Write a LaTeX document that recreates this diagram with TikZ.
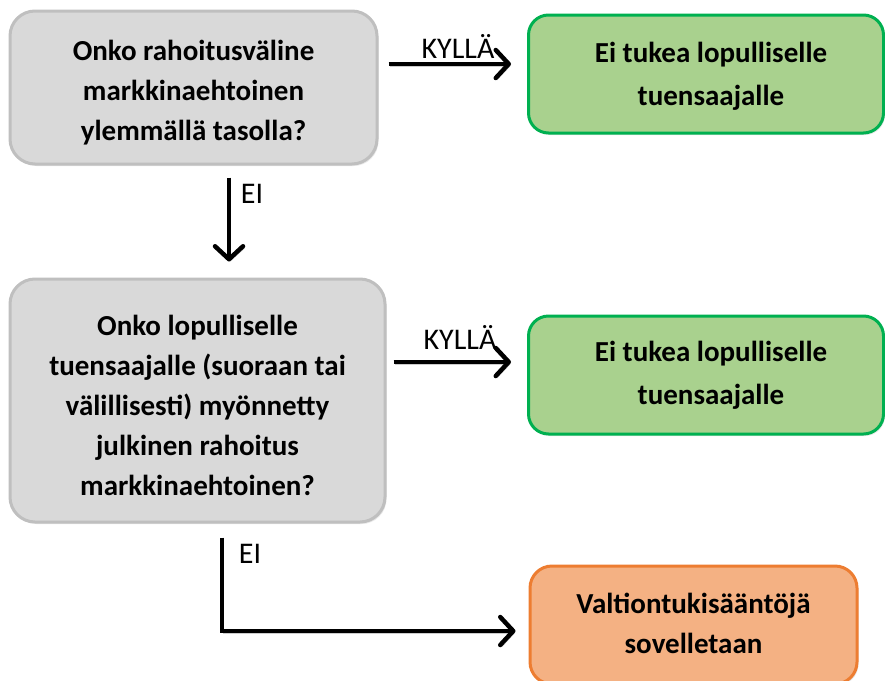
\documentclass[tikz,border=0pt]{standalone}
\usepackage{fontspec}
\setmainfont{Carlito}
\usetikzlibrary{arrows.meta,calc,shadows}
\definecolor{qfill}{HTML}{D9D9D9}
\definecolor{qline}{HTML}{BFBFBF}
\definecolor{gfill}{HTML}{A9D18E}
\definecolor{gline}{HTML}{00B050}
\definecolor{ofill}{HTML}{F4B183}
\definecolor{oline}{HTML}{ED7D31}
\tikzset{
  box/.style={rectangle, line width=3pt, inner sep=0pt,
    drop shadow={opacity=0.18, shadow xshift=1.5pt, shadow yshift=-2pt}},
  question/.style={box, draw=qline, fill=qfill, rounded corners=25pt},
  nosupport/.style={box, draw=gline, fill=gfill, rounded corners=20pt},
  rules/.style={box, draw=oline, fill=ofill, rounded corners=22pt},
  txt/.style={align=center, inner sep=0pt, font=\fontsize{29}{40}\selectfont\bfseries},
  gtxt/.style={txt, font=\fontsize{29}{43}\selectfont\bfseries},
  arr/.style={line width=4.5pt, -{Straight Barb[length=13pt,width=28pt,round]},
    preaction={draw=black, opacity=0.2, transform canvas={shift={(1.5pt,-2pt)}}}},
  lbl/.style={inner sep=0pt, font=\fontsize{30}{32}\selectfont}
}
\begin{document}
\begin{tikzpicture}[x=1pt, y=-1pt]
\useasboundingbox (0,0) rectangle (885,680);

% decision boxes
\node[question, minimum width=367pt, minimum height=153pt] (b1) at (193.5,87.5) {};
\node[txt] (t1) at ($(b1.center)+(0,5)$)
  {Onko rahoitusväline\\markkinaehtoinen\\ylemmällä tasolla?};
\node[question, minimum width=375pt, minimum height=243pt] (b2) at (197.5,400.5) {};
\node[txt] (t2) at ($(b2.center)+(0,5)$)
  {Onko lopulliselle\\tuensaajalle (suoraan tai\\välillisesti) myönnetty\\julkinen rahoitus\\markkinaehtoinen?};

% outcome boxes
\node[nosupport, minimum width=355pt, minimum height=118pt] (g1) at (706,74) {};
\node[gtxt] (t3) at ($(g1.center)+(5,2)$) {Ei tukea lopulliselle\\tuensaajalle};
\node[nosupport, minimum width=355pt, minimum height=118pt] (g2) at (706,375) {};
\node[gtxt] (t4) at ($(g2.center)+(5,0)$) {Ei tukea lopulliselle\\tuensaajalle};
\node[rules, minimum width=327pt, minimum height=118pt] (o) at (693.5,625) {};
\node[txt] (t5) at ($(o.center)+(0,-2)$) {Valtiontukisääntöjä\\sovelletaan};

% connectors
\draw[arr] ($(b1.east)+(10,-23.5)$) -- ($(g1.west)+(-16,-10)$);
\node[lbl] (k1) at (458,46) {KYLLÄ};

\draw[arr] ($(b1.south)+(35.5,12)$) -- ($(b2.north)+(31.5,-16)$);
\node[lbl] (e1) at (252,194) {EI};

\draw[arr] ($(b2.east)+(7,-38.5)$) -- ($(g2.west)+(-16,-13)$);
\node[lbl] (k2) at (460,337) {KYLLÄ};

\draw[arr] ($(b2.south)+(24.5,14)$) |- ($(o.west)+(-13,6)$);
\node[lbl] (e2) at (250,554) {EI};
\end{tikzpicture}
\end{document}
